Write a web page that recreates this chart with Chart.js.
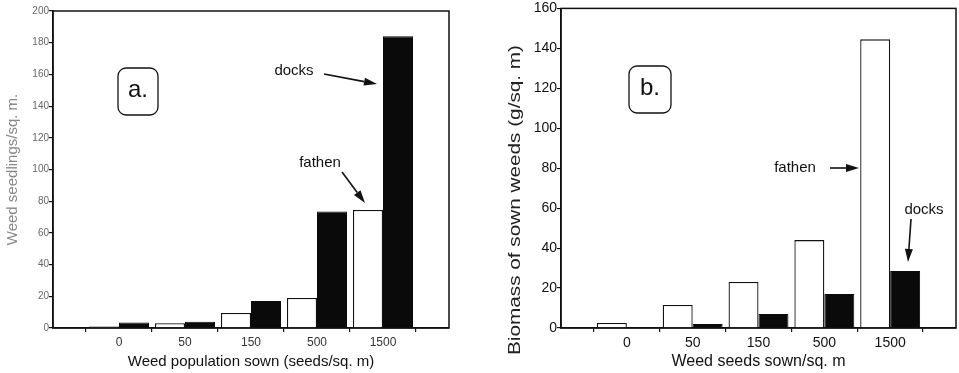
<!DOCTYPE html>
<html>
<head>
<meta charset="utf-8">
<script src="https://cdn.jsdelivr.net/npm/chart.js@4"></script>
<style>
  html, body { margin: 0; padding: 0; background: #fff; overflow: hidden; }
  #wrapA { position: absolute; left: 0; top: 0; width: 470px; height: 373px; }
  #wrapB { position: absolute; left: 470px; top: 0; width: 489px; height: 373px; }
</style>
</head>
<body>
<div id="wrapA"><canvas id="chartA"></canvas></div>
<div id="wrapB"><canvas id="chartB"></canvas></div>
<script>
// categories (seeds sown per sq. m)
const categories = ['0', '50', '150', '500', '1500'];

// a. weed seedlings / sq. m
const seedlingsFathen = [1, 3, 9.5, 19, 74.5];
const seedlingsDocks = [3.5, 4, 17, 73.5, 184];

// b. biomass of sown weeds (g / sq. m)
const biomassFathen = [2.5, 11.5, 23, 44, 144.5];
const biomassDocks = [0, 2, 7, 17, 28.5];

const ticksA = [0, 20, 40, 60, 80, 100, 120, 140, 160, 180, 200];
const ticksB = [0, 20, 40, 60, 80, 100, 120, 140, 160];

const FONT = "'Liberation Sans', Arial, sans-serif";

// an empty slot at each end, as in the original figure
const labels = [''].concat(categories, ['']);
const pad = arr => [null].concat(arr, [null]);

// frame, letter box, arrows and notes
const notes = {
    id: 'notes',
    afterDraw(chart, args, opts) {
        const ctx = chart.ctx;
        const a = chart.chartArea;
        ctx.save();
        ctx.strokeStyle = '#111';
        ctx.lineWidth = 1.5;
        ctx.strokeRect(a.left, a.top, a.right - a.left, a.bottom - a.top);

        // letter in rounded box
        const b = opts.box;
        ctx.lineWidth = 1.3;
        ctx.beginPath();
        ctx.roundRect(b.x, b.y, b.w, b.h, 8);
        ctx.stroke();
        ctx.fillStyle = '#111';
        ctx.textAlign = 'center';
        ctx.textBaseline = 'middle';
        ctx.font = '24px ' + FONT;
        ctx.fillText(b.text, b.x + b.w / 2, b.y + b.h / 2 - 1);

        opts.texts.forEach(t => {
            ctx.save();
            ctx.font = t.size + 'px ' + FONT;
            ctx.fillStyle = t.color || '#111';
            ctx.translate(t.x, t.y);
            if (t.rotate) ctx.rotate(-Math.PI / 2);
            if (t.stretch) ctx.scale(t.stretch, 1);
            ctx.fillText(t.text, 0, 0);
            ctx.restore();
        });

        opts.arrows.forEach(ar => {
            const ang = Math.atan2(ar.y2 - ar.y1, ar.x2 - ar.x1);
            const hl = 13, hw = 4;
            const bx = ar.x2 - hl * Math.cos(ang), by = ar.y2 - hl * Math.sin(ang);
            ctx.lineWidth = 1.6;
            ctx.beginPath();
            ctx.moveTo(ar.x1, ar.y1);
            ctx.lineTo(bx, by);
            ctx.stroke();
            ctx.beginPath();
            ctx.moveTo(ar.x2, ar.y2);
            ctx.lineTo(bx + hw * Math.sin(ang), by - hw * Math.cos(ang));
            ctx.lineTo(bx - hw * Math.sin(ang), by + hw * Math.cos(ang));
            ctx.closePath();
            ctx.fill();
        });
        ctx.restore();
    }
};

function makeChart(id, cfg) {
    const ctx = document.getElementById(id).getContext('2d');
    return new Chart(ctx, {
        type: 'bar',
        data: {
            labels: labels,
            datasets: [{
                label: 'fathen',
                data: pad(cfg.fathen),
                backgroundColor: '#ffffff',
                borderColor: '#111',
                borderWidth: 1.3,
                categoryPercentage: 0.91,
                barPercentage: 1
            }, {
                label: 'docks',
                data: pad(cfg.docks),
                backgroundColor: '#0a0a0a',
                borderColor: '#0a0a0a',
                borderWidth: 1,
                categoryPercentage: 0.91,
                barPercentage: 1
            }]
        },
        options: {
            responsive: true,
            maintainAspectRatio: false,
            animation: false,
            layout: { padding: cfg.padding },
            plugins: {
                legend: { display: false },
                tooltip: { enabled: false },
                notes: cfg.notes
            },
            scales: {
                x: {
                    offset: false,
                    afterFit: s => { s.height = 45; },
                    grid: { offset: true, drawOnChartArea: false, tickLength: 4, color: '#111', lineWidth: 1.2 },
                    border: { color: '#111', width: 1.5 },
                    ticks: { font: { family: FONT, size: cfg.xTickSize }, color: cfg.xTickColor, padding: 3, maxRotation: 0 },
                    title: {
                        display: true,
                        text: cfg.xTitle,
                        font: { family: FONT, size: cfg.xTitleSize },
                        color: '#111',
                        padding: { top: 0, bottom: 2 }
                    }
                },
                y: {
                    min: 0,
                    max: cfg.yTicks[cfg.yTicks.length - 1],
                    afterFit: s => { s.width = cfg.yWidth; },
                    afterBuildTicks: s => { s.ticks = cfg.yTicks.map(v => ({ value: v })); },
                    grid: { drawOnChartArea: false, tickLength: 4, color: '#111', lineWidth: 1.2 },
                    border: { color: '#111', width: 1.5 },
                    ticks: { font: { family: FONT, size: cfg.yTickSize }, color: cfg.yTickColor, padding: 0 },
                    title: cfg.yTitle
                }
            }
        },
        plugins: [notes]
    });
}

makeChart('chartA', {
    fathen: seedlingsFathen,
    docks: seedlingsDocks,
    yTicks: ticksA,
    padding: { top: 11, right: 21, bottom: 0, left: 0 },
    yWidth: 53,
    xTickSize: 12, xTickColor: '#333',
    yTickSize: 10, yTickColor: '#666',
    xTitle: 'Weed population sown (seeds/sq. m)', xTitleSize: 15,
    yTitle: {
        display: true,
        text: 'Weed seedlings/sq. m.',
        font: { family: FONT, size: 15 },
        color: '#888',
        padding: { top: 4, bottom: 0 }
    },
    notes: {
        box: { x: 118, y: 68, w: 40, h: 47, text: 'a.' },
        texts: [
            { text: 'docks', x: 294, y: 71, size: 15 },
            { text: 'fathen', x: 320, y: 163, size: 15 }
        ],
        arrows: [
            { x1: 324, y1: 74, x2: 377, y2: 84 },
            { x1: 342, y1: 172, x2: 365, y2: 203 }
        ]
    }
});

makeChart('chartB', {
    fathen: biomassFathen,
    docks: biomassDocks,
    yTicks: ticksB,
    padding: { top: 8, right: 1, bottom: 0, left: 0 },
    yWidth: 91,
    xTickSize: 14, xTickColor: '#111',
    yTickSize: 14, yTickColor: '#111',
    xTitle: 'Weed seeds sown/sq. m', xTitleSize: 16,
    yTitle: { display: false },
    notes: {
        box: { x: 159, y: 66, w: 42, h: 47, text: 'b.' },
        texts: [
            { text: 'Biomass of sown weeds (g/sq. m)', x: 45, y: 200, size: 17, rotate: true, stretch: 1.22, color: '#222' },
            { text: 'fathen', x: 325, y: 168, size: 15 },
            { text: 'docks', x: 454, y: 210, size: 15 }
        ],
        arrows: [
            { x1: 360, y1: 168, x2: 389, y2: 168 },
            { x1: 441, y1: 219, x2: 438, y2: 262 }
        ]
    }
});
</script>
</body>
</html>
